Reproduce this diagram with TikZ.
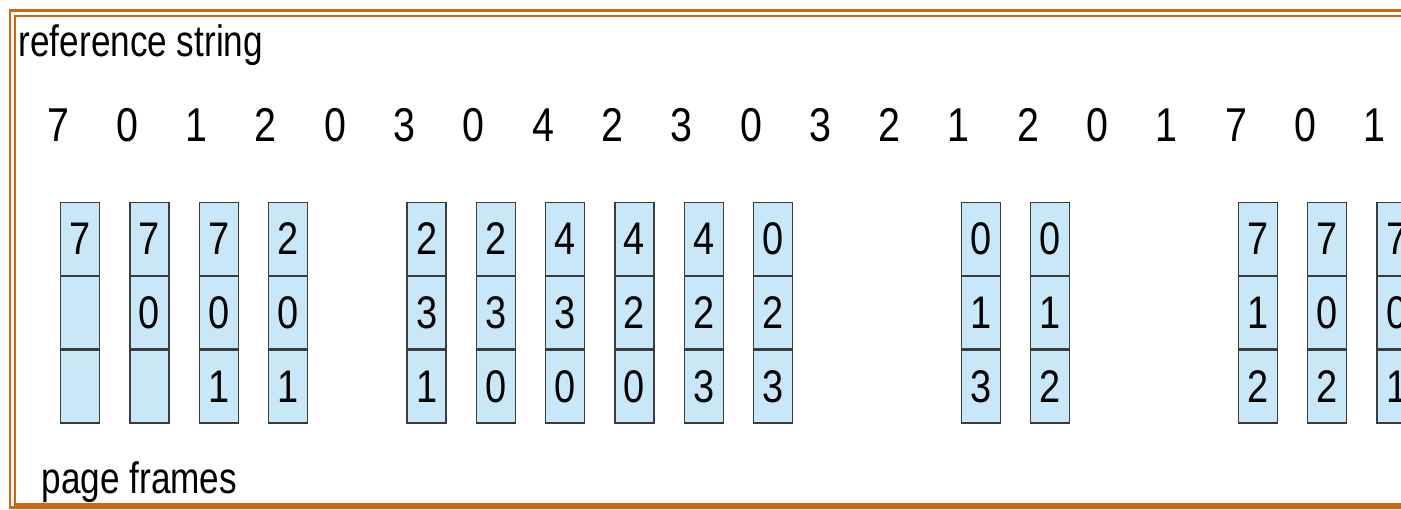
\documentclass[tikz,border=0pt]{standalone}
\usepackage{fontspec}
\setmainfont{Liberation Sans}
\newfontfamily\narrowsans[FakeStretch=0.83]{Liberation Sans}
\newfontfamily\labelsans[FakeStretch=0.8]{Liberation Sans}
\usetikzlibrary{positioning}

\definecolor{frameorange}{RGB}{206,104,14}
\definecolor{cellblue}{RGB}{200,232,250}
\definecolor{cellline}{RGB}{60,60,60}

\begin{document}
\begin{tikzpicture}[
  x=0.01cm, y=-0.01cm,
  caption/.style={inner sep=0pt, anchor=base west,
                  font=\labelsans\fontsize{12.5}{15}\selectfont},
  refdigit/.style={inner sep=0pt, anchor=base,
                   font=\narrowsans\fontsize{13.5}{16}\selectfont},
  cell/.style={rectangle, draw=cellline, line width=0.4pt, fill=cellblue,
               minimum width=0.39cm, minimum height=0.725cm, inner sep=0pt,
               font=\narrowsans\fontsize{13}{15}\selectfont},
  border/.style={draw=frameorange, line width=0.75pt}
]
\useasboundingbox (0,0) rectangle (1401,510);
\clip (0,0) rectangle (1401,510);

% Double frame, open to the right
\draw[border] (1420,10.5) -- (10,10.5) -- (10,507.5) -- (1420,507.5);
\draw[border] (1420,16) -- (15,16) -- (15,504.5) -- (1420,504.5);

% Labels
\node[caption] (reflabel) at (18,57) {reference string};
\node[caption] (framelabel) at (41,493) {page frames};

% Reference string
\foreach \v [count=\i from 0] in {7,0,1,2,0,3,0,4,2,3,0,3,2,1,2,0,1,7,0,1}
  \node[refdigit] (r\i) at ({58+69.3*\i},142) {\v};

% Page frames after each fault
\foreach \col/\a/\b/\c in {0/7/{}/{}, 1/7/0/{}, 2/7/0/1, 3/2/0/1,
    5/2/3/1, 6/2/3/0, 7/4/3/0, 8/4/2/0, 9/4/2/3, 10/0/2/3,
    13/0/1/3, 14/0/1/2, 17/7/1/2, 18/7/0/2, 19/7/0/1} {
  \node[cell, anchor=north west] (c\col-1) at ({60+69.28*\col},202) {\a};
  \node[cell, below=0pt of c\col-1] (c\col-2) {\b};
  \node[cell, below=0pt of c\col-2] (c\col-3) {\c};
}

\end{tikzpicture}
\end{document}
